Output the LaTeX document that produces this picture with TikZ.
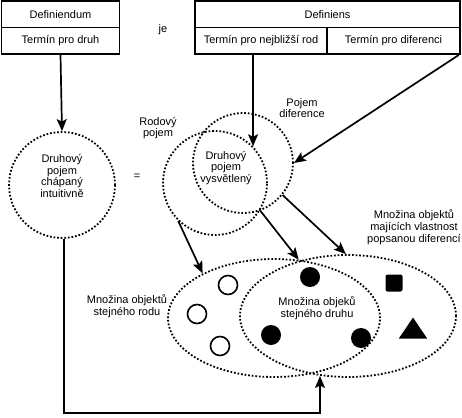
\documentclass[tikz,border=0pt]{standalone}
\usepackage{fontspec}
\setmainfont{Liberation Sans}
\usetikzlibrary{arrows.meta,shapes.geometric}
\begin{document}
\begin{tikzpicture}[x=1pt,y=-1pt,
  every node/.style={font=\fontsize{11}{11.8}\selectfont},
  cell/.style={draw,line width=1.8pt,minimum height=26.5pt,inner sep=0pt,anchor=center},
  arr/.style={line width=1.7pt,-{Stealth[length=12pt,width=10pt,inset=2.5pt]}},
  dots/.style={draw,line width=1.8pt,dash pattern=on 1.7pt off 1.9pt},
  lbl/.style={align=center,inner sep=0pt},
  ring/.style={dots,circle,inner sep=0pt},
  oval/.style={dots,ellipse,inner sep=0pt},
  opendot/.style={draw,line width=1.6pt,circle,inner sep=0pt,minimum size=19pt},
  fulldot/.style={fill=black,circle,inner sep=0pt,minimum size=20pt},
]
\useasboundingbox (0,0) rectangle (462,417);

% top boxes
\node[cell,minimum width=118pt] (defd) at (60.5,14.25) {Definiendum};
\node[cell,minimum width=118pt] (tpd) at (60.5,40.75) {Termín pro druh};
\node (je) at (163,30) {je};
\node[cell,minimum width=265pt] (defs) at (327.5,14.25) {Definiens};
\node[cell,minimum width=132pt] (tnr) at (261,40.75) {Termín pro nejbližší rod};
\node[cell,minimum width=133pt] (tdif) at (393.5,40.75) {Termín pro diferenci};

% circles
\node[ring,minimum size=106pt] (L) at (62,185) {};
\node[lbl] (Ltxt) at (62,176) {Druhový\\pojem\\chápaný\\intuitivně};
\node (eq) at (137,177) {=};
\node[ring,minimum size=104pt] (R) at (215,183) {};
\node[ring,minimum size=100pt] (D) at (243,163) {};
\node[lbl] (Vtxt) at (226,168) {Druhový\\pojem\\vysvětlený};
\node[lbl] (Rtxt) at (158,128) {Rodový\\pojem};
\node[lbl] (Dtxt) at (302,108) {Pojem\\diference};

% ellipses
\node[oval,minimum width=212pt,minimum height=118pt] (G) at (274,318) {};
\node[oval,minimum width=216pt,minimum height=122pt] (P) at (348,316) {};
\node[lbl] (Gtxt) at (127,306) {Množina objektů\\stejného rodu};
\node[lbl] (Stxt) at (317,308) {Množina objeků\\stejného druhu};
\node[lbl] (Ptxt) at (414,227) {Množina objektů\\majících vlastnost\\popsanou diferencí};

% objects
\node[opendot] (o1) at (228,285) {};
\node[opendot] (o2) at (197,314) {};
\node[opendot] (o3) at (220,346) {};
\node[fulldot] (f1) at (310,277) {};
\node[fulldot] (f2) at (271,335) {};
\node[fulldot] (f3) at (361,338) {};
\node[fill=black,rounded corners=2pt,minimum size=17pt,inner sep=0pt] (sq) at (394,283) {};
\node[fill=black,isosceles triangle,isosceles triangle apex angle=68,shape border rotate=90,minimum height=21pt,inner sep=0pt] (tri) at (413,331) {};

% connectors
\coordinate (mergept) at (320,376);
\draw[arr] (tpd.south) -- (L.north);
\draw[arr] (R.44.6 |- tnr.south) -- (R.44.6);
\draw[arr] ([xshift=-2pt]tdif.south east) -- (D.east);
\draw[arr] (R.226) -- (G.148);
\draw[arr] (D.-70) -- (G.67);
\draw[arr] (D.-39) -- (P.92);
\draw[arr] ([xshift=2pt]L.south) -- ++(0,174) -| (mergept);
\end{tikzpicture}
\end{document}
